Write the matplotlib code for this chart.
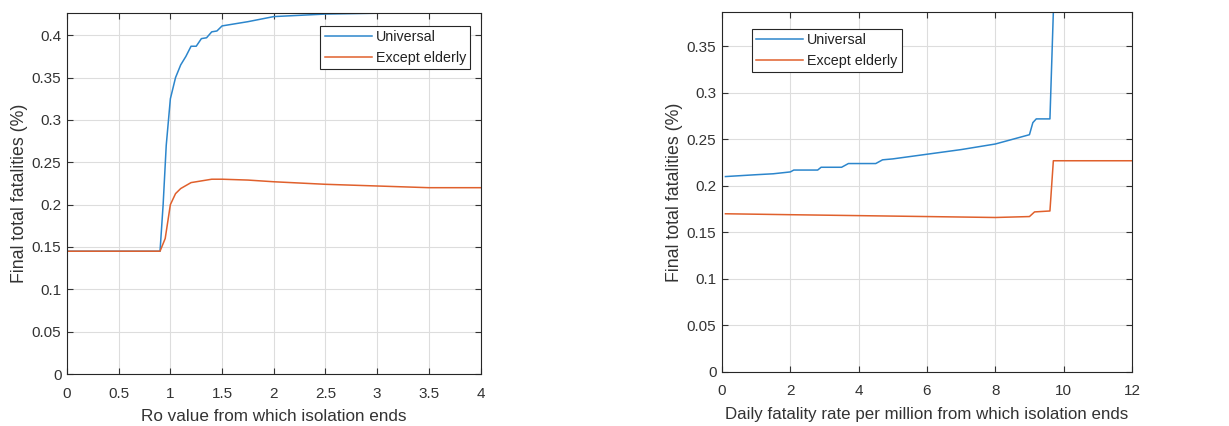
import matplotlib
matplotlib.use('Agg')
import matplotlib.pyplot as plt

# Daten links: Ro-Wert
ro_x = [0, 0.5, 0.9, 0.93, 0.96, 1.0, 1.05, 1.1, 1.15, 1.2, 1.25, 1.3, 1.35, 1.4, 1.45, 1.5, 1.75, 2.0, 2.5, 3.0]
ro_universal = [0.145, 0.145, 0.145, 0.20, 0.27, 0.325, 0.350, 0.365, 0.375, 0.387, 0.387, 0.396, 0.397, 0.404, 0.405, 0.411, 0.416, 0.422, 0.425, 0.426]
ro_x2 = [0, 0.5, 0.9, 0.95, 1.0, 1.05, 1.1, 1.2, 1.3, 1.4, 1.5, 1.75, 2.0, 2.5, 3.0, 3.5, 4.0]
ro_except = [0.145, 0.145, 0.145, 0.160, 0.200, 0.213, 0.219, 0.226, 0.228, 0.230, 0.230, 0.229, 0.227, 0.224, 0.222, 0.220, 0.220]

# Daten rechts: taegliche Todesrate pro Million
dr_x = [0.1, 1.0, 1.5, 2.0, 2.1, 2.8, 2.9, 3.5, 3.7, 4.5, 4.7, 5.0, 6.0, 7.0, 8.0, 8.5, 9.0, 9.1, 9.2, 9.6, 9.7, 12.0]
dr_universal = [0.210, 0.212, 0.213, 0.215, 0.217, 0.217, 0.220, 0.220, 0.224, 0.224, 0.228, 0.229, 0.234, 0.239, 0.245, 0.250, 0.255, 0.268, 0.272, 0.272, 0.387, 0.387]
dr_x2 = [0.1, 2.0, 4.0, 6.0, 8.0, 9.0, 9.15, 9.6, 9.7, 12.0]
dr_except = [0.170, 0.169, 0.168, 0.167, 0.166, 0.167, 0.172, 0.173, 0.227, 0.227]

blau = '#2c86cc'
orange = '#e0602c'
textfarbe = '#333333'

plt.rcParams['font.family'] = ['Liberation Sans', 'DejaVu Sans']
plt.rcParams['font.size'] = 10

fig = plt.figure(figsize=(12.29, 4.26), dpi=100)
ax1 = fig.add_axes([0.0545, 0.122, 0.3365, 0.847])
ax2 = fig.add_axes([0.5875, 0.127, 0.3335, 0.845])

def stil(ax):
    ax.grid(True, color='#dddddd', linewidth=0.8)
    ax.set_axisbelow(True)
    ax.tick_params(direction='in', top=True, right=True, colors=textfarbe, labelsize=11, length=4)
    ax.tick_params(axis='x', pad=9)
    ax.tick_params(axis='y', pad=4)
    for s in ax.spines.values():
        s.set_color('#262626')
        s.set_linewidth(0.8)

def legende(ax, anker):
    leg = ax.legend(loc='upper left', bbox_to_anchor=anker, fancybox=False,
                    edgecolor='#262626', framealpha=1, fontsize=10.3, handlelength=3.3,
                    borderpad=0.3, labelspacing=0.45, handletextpad=0.25, borderaxespad=0)
    leg.get_frame().set_linewidth(0.8)
    for t in leg.get_texts():
        t.set_color('#222222')

# Linkes Diagramm
ax1.plot(ro_x, ro_universal, color=blau, lw=1.1, label='Universal')
ax1.plot(ro_x2, ro_except, color=orange, lw=1.1, label='Except elderly')
ax1.set_xlim(0, 4)
ax1.set_ylim(0, 0.426)
ax1.set_xticks([0, 0.5, 1, 1.5, 2, 2.5, 3, 3.5, 4])
ax1.set_xticklabels(['0', '0.5', '1', '1.5', '2', '2.5', '3', '3.5', '4'])
ax1.set_yticks([0, 0.05, 0.1, 0.15, 0.2, 0.25, 0.3, 0.35, 0.4])
ax1.set_yticklabels(['0', '0.05', '0.1', '0.15', '0.2', '0.25', '0.3', '0.35', '0.4'])
ax1.set_xlabel('Ro value from which isolation ends', fontsize=12.3, color=textfarbe, labelpad=6)
ax1.set_ylabel('Final total fatalities (%)', fontsize=12.8, color=textfarbe, labelpad=3)
stil(ax1)
legende(ax1, (0.613, 0.964))

# Rechtes Diagramm
ax2.plot(dr_x, dr_universal, color=blau, lw=1.1, label='Universal')
ax2.plot(dr_x2, dr_except, color=orange, lw=1.1, label='Except elderly')
ax2.set_xlim(0, 12)
ax2.set_ylim(0, 0.387)
ax2.set_xticks([0, 2, 4, 6, 8, 10, 12])
ax2.set_yticks([0, 0.05, 0.1, 0.15, 0.2, 0.25, 0.3, 0.35])
ax2.set_yticklabels(['0', '0.05', '0.1', '0.15', '0.2', '0.25', '0.3', '0.35'])
ax2.set_xlabel('Daily fatality rate per million from which isolation ends', fontsize=12.2, color=textfarbe, labelpad=6)
ax2.set_ylabel('Final total fatalities (%)', fontsize=12.8, color=textfarbe, labelpad=3)
stil(ax2)
legende(ax2, (0.073, 0.953))

fig.savefig('out.png', dpi=100)
